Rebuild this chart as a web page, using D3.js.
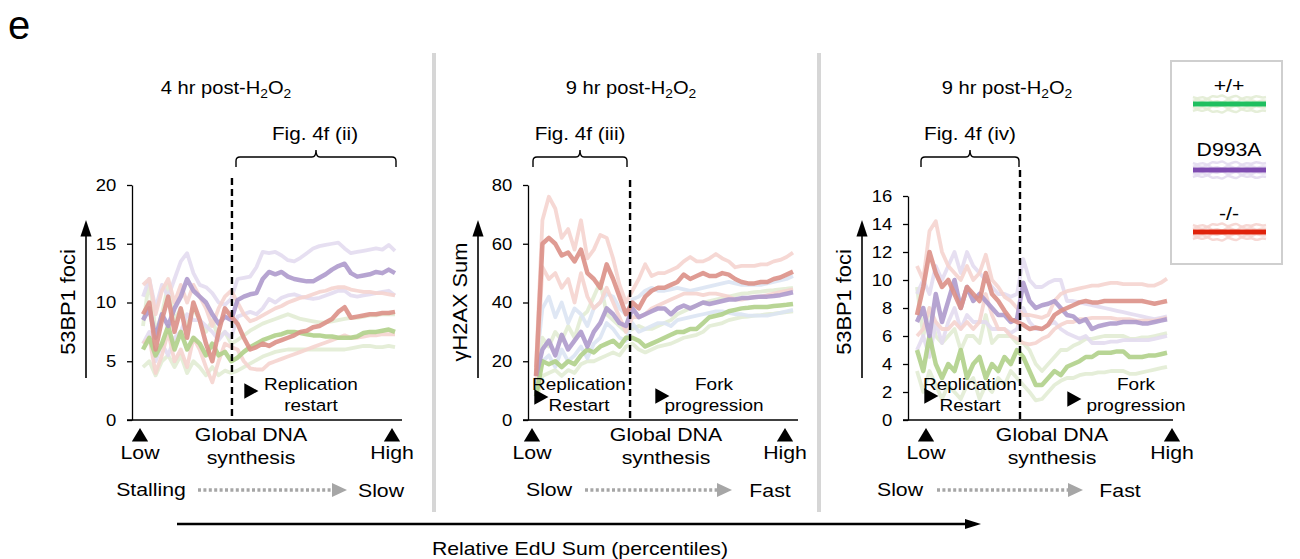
<!DOCTYPE html>
<html>
<head>
<meta charset="utf-8">
<script src="https://cdn.jsdelivr.net/npm/d3@7"></script>
<style>
  body { margin: 0; background: #fff; }
  svg { font-family: "Liberation Sans", Arial, sans-serif; }
</style>
</head>
<body>
<div id="plot"></div>
<script>
// percentile grid of EdU sum (x)
const pct = [0, 2.5, 5, 7.5, 10, 12.5, 15, 17.5, 20, 22.5, 25, 27.5, 30, 32.5, 35, 37.5, 40,
  42.5, 45, 47.5, 50, 52.5, 55, 57.5, 60, 62.5, 65, 67.5, 70, 72.5, 75, 77.5, 80, 82.5, 85,
  87.5, 90, 92.5, 95, 97.5, 100];

const genotypes = ["+/+", "D993A", "-/-"];

// ---- panel 1: 53BP1 foci, 4 hr post-H2O2
const p1GreenMean = [6.0, 7.0, 5.5, 6.5, 8.0, 6.0, 7.5, 6.0, 7.0, 6.5, 5.5, 6.5, 5.5, 5.8, 5.0, 5.3, 5.8, 6.2, 6.5, 6.8, 7.0, 7.2, 7.3, 7.5, 7.5, 7.4, 7.3, 7.2, 7.2, 7.1, 7.1, 7.0, 7.0, 7.0, 7.1, 7.4, 7.5, 7.5, 7.6, 7.7, 7.5];
const p1GreenHi = [8.0, 12.0, 7.5, 9.0, 11.5, 8.5, 9.5, 8.0, 9.5, 8.5, 7.5, 8.5, 7.0, 7.5, 6.5, 6.8, 7.2, 7.6, 7.9, 8.2, 8.4, 8.6, 8.8, 9.0, 8.8, 8.6, 8.5, 8.4, 8.3, 8.3, 8.4, 8.5, 8.6, 8.7, 8.7, 8.8, 8.9, 8.9, 9.0, 9.0, 9.0];
const p1GreenLo = [4.5, 5.0, 3.8, 5.0, 5.5, 4.5, 5.5, 4.0, 5.0, 4.5, 3.8, 4.5, 3.8, 4.2, 4.0, 4.2, 4.5, 4.8, 5.1, 5.4, 5.6, 5.8, 5.9, 6.0, 6.0, 6.0, 6.0, 6.0, 6.0, 6.0, 6.0, 6.0, 6.0, 6.1, 6.2, 6.3, 6.3, 6.2, 6.2, 6.3, 6.2];
const p1PurpleMean = [8.5, 9.5, 7.0, 9.0, 8.0, 9.5, 10.5, 12.0, 11.0, 10.5, 10.0, 9.0, 8.2, 8.8, 8.5, 10.2, 10.5, 10.7, 10.8, 12.0, 12.6, 12.4, 12.6, 12.2, 12.0, 11.9, 11.8, 11.8, 12.1, 12.4, 12.8, 13.1, 13.3, 12.5, 12.2, 12.3, 12.4, 12.6, 12.5, 12.8, 12.5];
const p1PurpleHi = [10.5, 12.0, 9.5, 11.5, 10.5, 12.0, 13.5, 14.2, 12.5, 11.5, 11.3, 10.8, 10.0, 9.8, 10.3, 12.0, 12.1, 12.2, 13.0, 14.3, 14.2, 14.3, 14.0, 13.6, 13.5, 13.8, 14.2, 14.6, 14.8, 14.9, 15.0, 15.1, 14.6, 14.2, 14.3, 14.4, 14.5, 14.6, 14.5, 14.9, 14.4];
const p1PurpleLo = [6.5, 7.5, 5.0, 6.5, 5.5, 7.0, 7.5, 9.0, 8.5, 8.5, 8.0, 7.5, 6.8, 7.5, 7.0, 8.8, 9.0, 9.2, 9.0, 9.5, 10.3, 10.0, 10.4, 10.6, 10.7, 10.5, 10.4, 10.3, 10.4, 10.6, 10.8, 11.0, 11.0, 10.6, 10.5, 10.6, 10.7, 10.8, 10.9, 11.0, 10.6];
const p1RedMean = [9.0, 10.0, 6.0, 8.5, 10.5, 7.5, 9.5, 7.0, 10.0, 8.5, 6.5, 5.0, 7.5, 9.5, 8.8, 8.2, 7.0, 6.0, 6.2, 6.5, 6.3, 6.6, 6.8, 7.0, 7.2, 7.5, 7.6, 7.9, 8.0, 8.3, 8.6, 9.2, 9.6, 8.7, 8.8, 8.9, 9.0, 9.0, 9.1, 9.1, 9.2];
const p1RedHi = [11.5, 12.0, 9.0, 11.0, 12.0, 10.0, 11.5, 10.0, 11.5, 10.5, 9.5, 8.0, 9.5, 10.5, 11.0, 10.0, 9.0, 8.4, 8.6, 8.9, 9.2, 9.5, 9.7, 10.0, 10.2, 10.4, 10.5, 10.7, 10.9, 11.0, 11.2, 11.3, 11.3, 11.1, 11.0, 10.9, 10.9, 10.8, 10.8, 10.7, 10.6];
const p1RedLo = [6.5, 7.0, 4.0, 5.5, 7.5, 5.0, 6.0, 4.5, 7.0, 6.0, 4.5, 3.2, 5.0, 6.5, 6.2, 6.0, 5.0, 4.4, 4.3, 4.3, 4.8, 5.0, 5.2, 5.4, 5.6, 5.8, 6.0, 6.2, 6.4, 6.6, 6.8, 7.0, 7.2, 7.0, 7.0, 7.1, 7.2, 7.2, 7.3, 7.3, 7.3];

// ---- panel 2: gammaH2AX sum, 9 hr post-H2O2
const p2GreenMean = [8, 20, 19, 20, 18, 20, 19, 22, 24, 23, 25, 26, 27, 25, 28, 28, 27, 25, 26, 27, 28, 29, 30, 30, 31, 31, 33, 35, 35.5, 36, 37, 37.5, 38, 38.2, 38.5, 38.5, 38.5, 38.8, 39, 39.2, 39.5];
const p2GreenHi = [12, 28, 25, 30, 27, 32, 28, 35, 37, 42, 47, 36, 34, 32, 30, 31, 32, 31, 31, 32, 33, 34, 36, 37, 38, 39, 40, 40.5, 41, 41.5, 42, 42.5, 43, 43.2, 43.5, 43.7, 44, 44.2, 44.5, 44.7, 45];
const p2GreenLo = [6, 15, 16, 17, 15, 17, 16, 19, 20, 20, 21, 22, 23, 22, 25, 26, 24, 23, 24, 25, 25.5, 26, 27, 28, 28.5, 29, 30, 32, 32.5, 33, 34, 34.5, 35, 35.2, 35.5, 35.7, 36, 36.2, 36.5, 36.7, 37];
const p2PurpleMean = [15, 24, 27, 22, 29, 24, 27, 30, 25, 30, 33, 38, 36, 33, 32, 38, 35, 36, 37, 38, 38, 36, 38, 39, 38, 39, 40, 39.5, 40, 40.5, 41, 41, 41.5, 41.5, 41.8, 42, 42, 42.2, 42.5, 43, 43.5];
const p2PurpleHi = [18, 38, 42, 35, 40, 33, 38, 36, 32, 38, 40, 43, 42, 38, 36, 41, 42, 44, 45, 44, 44, 44.5, 45, 44.5, 44, 44.5, 45, 45.5, 46, 46.5, 47, 46.5, 46, 46, 46, 46, 46.5, 47, 47.5, 48, 49];
const p2PurpleLo = [12, 20, 22, 18, 24, 20, 22, 25, 21, 26, 28, 33, 31, 28, 27, 33, 30, 31, 32, 33, 33, 32, 34, 34.5, 35, 35.5, 36, 36.5, 37, 37, 36.5, 36, 36, 35.5, 35.5, 35.5, 35.5, 36, 36.5, 37, 37.5];
const p2RedMean = [15, 60, 62, 60, 56, 57, 54, 58, 50, 48, 45, 53, 48, 42, 36, 40, 38, 42, 44, 45, 45, 46, 47, 49.5, 48, 49, 50, 49, 49, 50, 49.5, 48, 47, 46.5, 46.5, 47, 47, 48, 48.5, 49.5, 50.5];
const p2RedHi = [18, 68, 76, 72, 62, 65, 58, 68, 55, 58, 63, 62, 55, 46, 40, 44, 48, 53, 49, 50, 50, 51, 52, 54, 55.5, 54, 54, 55, 56.5, 55, 54, 52, 52.5, 52.5, 52.5, 53, 53, 54, 54.5, 55.5, 57];
const p2RedLo = [12, 52, 48, 50, 45, 48, 40, 50, 42, 38, 40, 45, 40, 35, 30, 35, 35, 36, 38, 39, 40, 41, 42, 43, 43, 43, 42.5, 43, 43, 42.5, 42, 41, 41, 41.5, 42, 42, 42.5, 43, 43.5, 44, 44.5];

// ---- panel 3: 53BP1 foci, 9 hr post-H2O2
const p3GreenMean = [5.0, 3.5, 6.0, 4.0, 3.0, 4.0, 3.5, 5.0, 3.0, 4.0, 4.5, 3.0, 4.0, 3.5, 4.5, 4.0, 5.0, 4.5, 3.5, 2.5, 2.5, 3.0, 3.5, 3.2, 3.8, 4.0, 4.2, 4.5, 4.5, 4.8, 4.8, 4.8, 4.9, 4.9, 4.5, 4.5, 4.5, 4.6, 4.6, 4.7, 4.8];
const p3GreenHi = [9.5, 6.0, 8.0, 6.0, 5.5, 6.0, 6.5, 5.0, 6.0, 6.0, 5.5, 7.5, 5.5, 6.0, 6.0, 6.0, 5.5, 5.5, 5.0, 4.0, 3.5, 4.0, 4.5, 5.0, 5.0, 5.3, 5.5, 5.8, 5.8, 5.9, 6.0, 6.0, 6.0, 6.0, 5.8, 5.8, 5.9, 5.9, 6.0, 6.1, 6.2];
const p3GreenLo = [3.5, 2.0, 3.5, 2.5, 1.5, 2.5, 2.0, 1.5, 2.5, 3.0, 1.5, 2.5, 2.0, 3.0, 2.5, 3.5, 3.0, 2.5, 2.0, 1.4, 1.5, 2.0, 2.5, 2.8, 3.0, 3.0, 3.2, 3.3, 3.3, 3.4, 3.4, 3.5, 3.5, 3.5, 3.3, 3.3, 3.4, 3.5, 3.6, 3.7, 3.8];
const p3PurpleMean = [7.0, 8.0, 6.0, 9.0, 7.0, 8.5, 10.0, 8.0, 9.5, 8.5, 9.0, 8.5, 8.0, 7.5, 7.5, 7.0, 7.2, 9.8, 8.5, 8.0, 8.2, 8.3, 8.5, 8.0, 7.5, 7.4, 7.0, 7.2, 6.5, 6.7, 6.8, 6.9, 6.9, 7.0, 7.0, 7.0, 6.9, 6.9, 7.0, 7.1, 7.2];
const p3PurpleHi = [9.0, 10.0, 9.0, 11.0, 10.0, 11.0, 12.0, 10.5, 12.0, 11.0, 10.5, 10.0, 9.5, 9.0, 9.0, 8.8, 9.0, 11.5, 10.0, 9.5, 9.5, 9.8, 10.0, 10.0, 8.5, 8.5, 8.4, 8.3, 8.2, 8.1, 8.0, 7.9, 7.8, 7.7, 7.6, 7.5, 7.4, 7.3, 7.2, 7.3, 7.4];
const p3PurpleLo = [5.0, 6.0, 4.5, 7.0, 5.5, 7.0, 8.0, 6.5, 7.5, 7.0, 7.0, 7.0, 6.5, 6.5, 6.5, 6.2, 6.5, 8.0, 7.0, 6.5, 6.5, 6.8, 7.0, 6.5, 6.2, 6.0, 5.8, 6.0, 5.5, 5.5, 5.5, 5.6, 5.6, 5.7, 5.7, 5.7, 5.7, 5.7, 5.8, 5.9, 6.0];
const p3RedMean = [7.5, 9.5, 12.0, 10.5, 9.5, 10.0, 9.0, 8.0, 9.5, 9.0, 8.5, 10.5, 9.0, 8.5, 7.8, 7.2, 7.0, 6.8, 6.5, 6.6, 6.5, 6.8, 7.5, 7.8, 8.0, 8.2, 8.4, 8.5, 8.4, 8.4, 8.5, 8.5, 8.5, 8.5, 8.5, 8.5, 8.5, 8.4, 8.3, 8.4, 8.5];
const p3RedHi = [11.0, 10.0, 13.5, 14.2, 12.0, 11.0, 10.5, 10.0, 11.0, 10.0, 10.5, 11.8, 10.0, 9.5, 8.8, 8.5, 8.0, 7.5, 7.5, 7.4, 7.3, 7.5, 8.5, 9.0, 9.2, 9.3, 9.4, 9.5, 9.6, 9.6, 9.7, 9.8, 9.8, 9.7, 9.7, 9.7, 9.7, 9.6, 9.6, 9.8, 10.1];
const p3RedLo = [6.0, 6.5, 8.0, 7.0, 6.5, 6.5, 7.0, 6.5, 7.0, 6.5, 7.0, 9.0, 7.5, 6.5, 6.5, 6.0, 5.8, 5.5, 5.4, 5.5, 5.8, 6.0, 6.5, 6.8, 7.0, 7.0, 7.2, 7.2, 7.3, 7.3, 7.3, 7.3, 7.2, 7.2, 7.2, 7.1, 7.1, 7.1, 7.1, 7.2, 7.3];

// axis ticks
const yTicks1 = [0, 5, 10, 15, 20];
const yTicks2 = [0, 20, 40, 60, 80];
const yTicks3 = [0, 2, 4, 6, 8, 10, 12, 14, 16];

// wiggle of the faint legend swatch lines
const legendWave = [0, 2, -1, 3, -2, 1, -3, 2, 0, -2, 3, -1, 2, -2, 1, 0];

const width = 1300, height = 559;
const svg = d3.select("#plot").append("svg")
  .attr("width", width)
  .attr("height", height)
  .style("background-color", "white");

const col = {
  green:  { mean: "#b0d089", band: "#e2ecd4", key: "#1fbf5f" },
  purple: { mean: "#ae9acc", band: "#e3dcef", key: "#7e4bb0" },
  red:    { mean: "#dc9087", band: "#f5d4cf", key: "#e0220a" }
};

// the figure's lettering is a little wide, so text is stretched horizontally
function txt(parent, x, y, s, size, sx = 1.15, anchor = "middle") {
  return parent.append("text")
    .attr("transform", `translate(${x},${y}) scale(${sx},1)`)
    .attr("text-anchor", anchor)
    .attr("font-size", size)
    .text(s);
}

const panels = [
  {
    title: "4 hr post-H", titleX: 226, fig: "Fig. 4f (ii)", figX: 315, bracket: [236, 396],
    axisX: 132, axisEnd: 402, dataX: [143, 395], yTop: 185, yMax: 20, ticks: yTicks1,
    yLabel: "53BP1 foci", labelX: 70, arrowX: 86, dashPct: 35.3, dashTop: 178,
    green: [p1GreenMean, p1GreenHi, p1GreenLo],
    purple: [p1PurpleMean, p1PurpleHi, p1PurpleLo],
    red: [p1RedMean, p1RedHi, p1RedLo],
    purpleBand: "#e3dcef",
    low: 140, high: 392, global: 251, from: "Stalling", fromX: 151, dots: [198, 347], to: "Slow", toX: 381,
    notes: [{ tri: [249, 391], lines: ["Replication", "restart"], x: 311 }]
  },
  {
    title: "9 hr post-H", titleX: 631, fig: "Fig. 4f (iii)", figX: 580, bracket: [533, 627],
    axisX: 528, axisEnd: 798, dataX: [536, 793], yTop: 185, yMax: 80, ticks: yTicks2,
    yLabel: "\u03b3H2AX Sum", labelX: 462, arrowX: 478, dashPct: 36.6, dashTop: 180,
    green: [p2GreenMean, p2GreenHi, p2GreenLo],
    purple: [p2PurpleMean, p2PurpleHi, p2PurpleLo],
    red: [p2RedMean, p2RedHi, p2RedLo],
    purpleBand: "#dbe4f3",
    low: 532, high: 785, global: 666, from: "Slow", fromX: 549, dots: [585, 732], to: "Fast", toX: 770,
    notes: [{ tri: [539, 397], lines: ["Replication", "Restart"], x: 579 },
            { tri: [660, 396], lines: ["Fork", "progression"], x: 714 }]
  },
  {
    title: "9 hr post-H", titleX: 1007, fig: "Fig. 4f (iv)", figX: 970, bracket: [921, 1019],
    axisX: 908, axisEnd: 1173, dataX: [917, 1167], yTop: 196, yMax: 16, ticks: yTicks3,
    yLabel: "53BP1 foci", labelX: 846, arrowX: 862, dashPct: 41.2, dashTop: 170,
    green: [p3GreenMean, p3GreenHi, p3GreenLo],
    purple: [p3PurpleMean, p3PurpleHi, p3PurpleLo],
    red: [p3RedMean, p3RedHi, p3RedLo],
    purpleBand: "#e3dcef",
    low: 926, high: 1172, global: 1052, from: "Slow", fromX: 900, dots: [937, 1083], to: "Fast", toX: 1120,
    notes: [{ tri: [929, 396], lines: ["Replication", "Restart"], x: 970 },
            { tri: [1072, 399], lines: ["Fork", "progression"], x: 1136 }]
  }
];

const yBot = 420;

// panel letter
svg.append("text").attr("x", 8).attr("y", 39)
  .attr("font-size", 40).text("e");

// gray separators between panels
[434, 819].forEach(x => {
  svg.append("line").attr("x1", x).attr("x2", x).attr("y1", 53).attr("y2", 512)
    .attr("stroke", "#d6d6d6").attr("stroke-width", 4);
});

const triUp = d3.symbol().type(d3.symbolTriangle).size(95);

panels.forEach(p => {
  const g = svg.append("g");

  const x = d3.scaleLinear().domain([0, 100]).range(p.dataX);
  const y = d3.scaleLinear().domain([0, p.yMax]).range([yBot, p.yTop]);

  // title with subscripts
  const t = txt(g, p.titleX, 94, "", 17.5);
  t.append("tspan").text(p.title);
  t.append("tspan").attr("font-size", 12).attr("dy", 4).text("2");
  t.append("tspan").attr("dy", -4).text("O");
  t.append("tspan").attr("font-size", 12).attr("dy", 4).text("2");

  // bracket + label
  const [a, b] = p.bracket, m = (a + b) / 2;
  g.append("path")
    .attr("d", `M${a},167 L${a},161 Q${a},157 ${a + 4},157 L${m - 4},157 Q${m},157 ${m},150 Q${m},157 ${m + 4},157 L${b - 4},157 Q${b},157 ${b},161 L${b},167`)
    .attr("fill", "none").attr("stroke", "#000").attr("stroke-width", 1.4);
  txt(g, p.figX, 140, p.fig, 18);

  // y axis
  const yAxis = d3.axisLeft(y).tickValues(p.ticks).tickSize(5).tickPadding(9).tickSizeOuter(0);
  const ya = g.append("g").attr("transform", `translate(${p.axisX},0)`).call(yAxis);
  ya.selectAll("text").attr("font-size", 16.5).attr("fill", "#000")
    .attr("transform", "scale(1.12,1)")
    .attr("font-family", "Liberation Sans, Arial, sans-serif");
  ya.selectAll("line, path").attr("stroke", "#000").attr("stroke-width", 1.3);

  // x axis baseline
  g.append("line").attr("x1", p.axisX - 5).attr("x2", p.axisEnd)
    .attr("y1", yBot).attr("y2", yBot).attr("stroke", "#000").attr("stroke-width", 1.3);

  // y label + up arrow
  g.append("text").attr("transform", `translate(${p.labelX},${302}) rotate(-90) scale(1.12,1)`)
    .attr("text-anchor", "middle").attr("dominant-baseline", "middle")
    .attr("font-size", 19.5).text(p.yLabel);
  g.append("line").attr("x1", p.arrowX).attr("x2", p.arrowX).attr("y1", 378).attr("y2", 236)
    .attr("stroke", "#000").attr("stroke-width", 1.6);
  g.append("path").attr("d", triUp())
    .attr("transform", `translate(${p.arrowX},${231}) scale(0.75,1.3)`).attr("fill", "#000");

  // lines: bands first, then the means
  const line = d3.line().x((d, i) => x(pct[i])).y(d => y(d));
  ["green", "purple", "red"].forEach(k => {
    const [, hi, lo] = p[k];
    const band = k === "purple" ? p.purpleBand : col[k].band;
    [hi, lo].forEach(s => {
      g.append("path").datum(s).attr("d", line)
        .attr("fill", "none").attr("stroke", band).attr("stroke-width", 3.8)
        .attr("stroke-linejoin", "round").attr("opacity", 0.9);
    });
  });
  ["green", "purple", "red"].forEach(k => {
    g.append("path").datum(p[k][0]).attr("d", line)
      .attr("fill", "none").attr("stroke", col[k].mean).attr("stroke-width", 4.5)
      .attr("stroke-linejoin", "round").attr("opacity", 0.9);
  });

  // dashed divider
  g.append("line").attr("x1", x(p.dashPct)).attr("x2", x(p.dashPct))
    .attr("y1", p.dashTop).attr("y2", yBot)
    .attr("stroke", "#000").attr("stroke-width", 2.4).attr("stroke-dasharray", "7,4");

  // in-plot annotations
  p.notes.forEach(n => {
    g.append("path").attr("d", triUp())
      .attr("transform", `translate(${n.tri[0]},${n.tri[1]}) rotate(90) scale(1.05,1.1)`)
      .attr("fill", "#000");
    n.lines.forEach((s, i) => txt(g, n.x, 390 + i * 21, s, 16.5));
  });

  // low/high markers
  [[p.low, "Low"], [p.high, "High"]].forEach(([cx, s]) => {
    g.append("path").attr("d", triUp()).attr("transform", `translate(${cx},${437}) scale(1.1,1.05)`)
      .attr("fill", "#000");
    txt(g, cx, 459, s, 18.5);
  });
  txt(g, p.global, 441, "Global DNA", 18.5);
  txt(g, p.global, 464, "synthesis", 18.5);

  // speed dotted arrow
  txt(g, p.fromX, 496, p.from, 18.5);
  g.append("line").attr("x1", p.dots[0]).attr("x2", p.dots[1] - 14).attr("y1", 490).attr("y2", 490)
    .attr("stroke", "#a6a6a6").attr("stroke-width", 3.5).attr("stroke-dasharray", "3,2.4");
  g.append("path")
    .attr("d", `M${p.dots[1] - 15},483 L${p.dots[1]},490 L${p.dots[1] - 15},497 Z`)
    .attr("fill", "#a6a6a6");
  txt(g, p.toX, 497, p.to, 18.5);
});

// overall EdU arrow
svg.append("line").attr("x1", 177).attr("x2", 968).attr("y1", 524).attr("y2", 524)
  .attr("stroke", "#000").attr("stroke-width", 2.6);
svg.append("path").attr("d", "M965,519 L981,524 L965,529 Z").attr("fill", "#000");
txt(svg, 580, 555, "Relative EdU Sum (percentiles)", 18, 1.18);

// legend
const lg = svg.append("g");
lg.append("rect").attr("x", 1171).attr("y", 61).attr("width", 111).attr("height", 203)
  .attr("fill", "#fff").attr("stroke", "#cfcfcf").attr("stroke-width", 2);
const lx = d3.scaleLinear().domain([0, legendWave.length - 1]).range([1193, 1266]);
const keys = ["green", "purple", "red"];
const keyY = [104, 170, 232];
genotypes.forEach((name, i) => {
  const k = keys[i], cy = keyY[i];
  [-7, -3, 3, 7].forEach((off, j) => {
    const wl = d3.line().x((d, idx) => lx(idx))
      .y(d => cy + off + (j % 2 ? -d : d)).curve(d3.curveBasis);
    lg.append("path").datum(legendWave).attr("d", wl)
      .attr("fill", "none").attr("stroke", col[k].band).attr("stroke-width", 2.5).attr("opacity", 0.9);
  });
  lg.append("line").attr("x1", 1193).attr("x2", 1266).attr("y1", cy).attr("y2", cy)
    .attr("stroke", col[k].key).attr("stroke-width", 5);
  txt(lg, 1229, cy - 12 - (i === 1 ? 2 : 0), name, 18, 1.18);
});
</script>
</body>
</html>
